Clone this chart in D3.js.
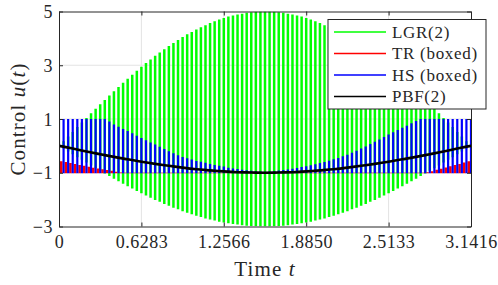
<!DOCTYPE html>
<html>
<head>
<meta charset="utf-8">
<script src="https://cdn.jsdelivr.net/npm/d3@7"></script>
<style>
  body { margin: 0; background: #fff; }
</style>
</head>
<body>
<div id="chart"></div>
<script>
"use strict";

// tick labels
var xTicks = [0, 0.6283, 1.2566, 1.8850, 2.5133, 3.1416];
var yTicks = [5, 3, 1, -1, -3];

// legend
var seriesNames = ["LGR(2)", "TR (boxed)", "HS (boxed)", "PBF(2)"];
var seriesColors = ["#00ff00", "#ff0000", "#0000ff", "#000000"];

// box bound on the control
var uMin = -1;

// LGR(2): upper and lower value on each mesh interval (91 nodes over [0, pi])
var lgrHi = [0, 0.17, 0.35, 0.52, 0.70, 0.87, 1.04, 1.21, 1.38, 1.55, 1.71, 1.87, 2.03, 2.19, 2.35, 2.50,
  2.65, 2.80, 2.94, 3.08, 3.21, 3.35, 3.47, 3.60, 3.72, 3.83, 3.94, 4.05, 4.15, 4.24, 4.33, 4.41,
  4.49, 4.57, 4.64, 4.70, 4.76, 4.81, 4.85, 4.89, 4.92, 4.95, 4.97, 4.99, 5.00, 5.00,
  5.00, 4.99, 4.97, 4.95, 4.92, 4.89, 4.85, 4.81, 4.76, 4.70, 4.64, 4.57, 4.49, 4.41, 4.33, 4.24,
  4.15, 4.05, 3.94, 3.83, 3.72, 3.60, 3.47, 3.35, 3.21, 3.08, 2.94, 2.80, 2.65, 2.50, 2.35, 2.19,
  2.03, 1.87, 1.71, 1.55, 1.38, 1.21, 1.04, 0.87, 0.70, 0.52, 0.35, 0.17, 0];
var lgrLo = [0, -0.10, -0.21, -0.31, -0.42, -0.52, -0.62, -0.73, -0.83, -0.93, -1.03, -1.12, -1.22, -1.32,
  -1.41, -1.50, -1.59, -1.68, -1.76, -1.85, -1.93, -2.01, -2.08, -2.16, -2.23, -2.30, -2.36, -2.43,
  -2.49, -2.54, -2.60, -2.65, -2.70, -2.74, -2.78, -2.82, -2.85, -2.88, -2.91, -2.93, -2.95, -2.97,
  -2.98, -2.99, -3.00, -3.00,
  -3.00, -2.99, -2.98, -2.97, -2.95, -2.93, -2.91, -2.88, -2.85, -2.82, -2.78, -2.74, -2.70, -2.65,
  -2.60, -2.54, -2.49, -2.43, -2.36, -2.30, -2.23, -2.16, -2.08, -2.01, -1.93, -1.85, -1.76, -1.68,
  -1.59, -1.50, -1.41, -1.32, -1.22, -1.12, -1.03, -0.93, -0.83, -0.73, -0.62, -0.52, -0.42, -0.31,
  -0.21, -0.10, 0];

// HS (boxed): upper value on each node, lower is the bound
var hsHi = [1, 1, 1, 1, 1, 1, 1, 1, 1, 1, 1, 0.91, 0.80, 0.71, 0.63, 0.55, 0.47, 0.38, 0.29, 0.21, 0.13,
  0.05, -0.03, -0.12, -0.20, -0.27, -0.35, -0.41, -0.46, -0.51, -0.56, -0.59, -0.63, -0.67, -0.71,
  -0.74, -0.77, -0.81, -0.84, -0.86, -0.89, -0.91, -0.93, -0.94, -0.95, -0.96,
  -0.95, -0.94, -0.92, -0.90, -0.88, -0.85, -0.82, -0.79, -0.76, -0.72, -0.68, -0.64, -0.60, -0.55,
  -0.50, -0.45, -0.39, -0.33, -0.26, -0.18, -0.10, -0.02, 0.07, 0.15, 0.24, 0.33, 0.42, 0.51, 0.59,
  0.67, 0.75, 0.84, 0.93, 1, 1, 1, 1, 1, 1, 1, 1, 1, 1, 1, 1];

// TR (boxed): upper value between nodes (90 values), lower is the bound
var trHi = [-0.57, -0.60, -0.64, -0.67, -0.71, -0.74, -0.78, -0.81, -0.84, -0.87, -0.90, -0.93, -0.96, -0.99,
  -1, -1, -1, -1, -1, -1, -1, -1, -1, -1, -1, -1, -1, -1, -1, -1, -1, -1, -1, -1, -1, -1, -1, -1,
  -1, -1, -1, -1, -1, -1, -1, -1, -1, -1, -1, -1, -1, -1, -1, -1, -1, -1, -1, -1, -1, -1, -1, -1,
  -1, -1, -1, -1, -1, -1, -1, -1, -1, -1, -1, -1, -1, -1, -1, -1, -1, -1,
  -0.98, -0.94, -0.89, -0.85, -0.80, -0.76, -0.71, -0.67, -0.62, -0.57];

// PBF(2): smooth control at 31 points over [0, pi]
var pbf = [0, -0.10, -0.21, -0.31, -0.41, -0.50, -0.59, -0.67, -0.74, -0.81, -0.87, -0.91, -0.95, -0.98,
  -0.99, -1.00, -0.99, -0.98, -0.95, -0.91, -0.87, -0.81, -0.74, -0.67, -0.59, -0.50, -0.41, -0.31,
  -0.21, -0.10, 0];

var serif = "'Liberation Serif', 'DejaVu Serif', serif";

function renderMyChart() {
    var svg = d3.select("#chart").append("svg")
        .attr("width", 498)
        .attr("height", 285)
        .style("font-family", serif),
        margin = { top: 11.5, left: 59 },
        width = 412,
        height = 215;

    var x = d3.scaleLinear().domain([0, Math.PI]).range([0, width]),
        y = d3.scaleLinear().domain([-3, 5]).range([height, 0]);

    var g = svg.append("g")
        .attr("transform", "translate(" + margin.left + "," + margin.top + ")");

    svg.append("defs").append("clipPath").attr("id", "clip")
        .append("rect").attr("width", width).attr("height", height);

    // grid
    g.append("g").selectAll("line").data(xTicks.slice(1, -1)).join("line")
        .attr("x1", d => x(d)).attr("x2", d => x(d))
        .attr("y1", 0).attr("y2", height)
        .attr("stroke", "#e3e3e3");
    g.append("g").selectAll("line").data(yTicks.slice(1, -1)).join("line")
        .attr("x1", 0).attr("x2", width)
        .attr("y1", d => y(d)).attr("y2", d => y(d))
        .attr("stroke", "#e3e3e3");

    var plot = g.append("g").attr("clip-path", "url(#clip)");

    var nodeT = d3.range(lgrHi.length).map(i => i * Math.PI / (lgrHi.length - 1));
    var step = Math.PI / (lgrHi.length - 1);

    plot.append("g").selectAll("line").data(nodeT).join("line")
        .attr("x1", d => x(d)).attr("x2", d => x(d))
        .attr("y1", (d, i) => y(lgrHi[i])).attr("y2", (d, i) => y(lgrLo[i]))
        .attr("stroke", seriesColors[0]).attr("stroke-width", 2.5);

    plot.append("g").selectAll("line").data(trHi).join("line")
        .attr("x1", (d, i) => x(i * step + step / 2)).attr("x2", (d, i) => x(i * step + step / 2))
        .attr("y1", d => y(d)).attr("y2", y(uMin) + 0.5)
        .attr("stroke", seriesColors[1]).attr("stroke-width", 2.6);

    plot.append("g").selectAll("line").data(nodeT).join("line")
        .attr("x1", d => x(d)).attr("x2", d => x(d))
        .attr("y1", (d, i) => y(hsHi[i])).attr("y2", y(uMin) + 0.5)
        .attr("stroke", seriesColors[2]).attr("stroke-width", 2.2);

    plot.append("path")
        .datum(pbf)
        .attr("fill", "none")
        .attr("stroke", seriesColors[3])
        .attr("stroke-width", 2.6)
        .attr("d", d3.line()
            .x((d, i) => x(i * Math.PI / (pbf.length - 1)))
            .y(d => y(d))
            .curve(d3.curveNatural));

    // axes
    var axisColor = "#262626";
    var bottom = g.append("g").attr("transform", "translate(0," + height + ")")
        .call(d3.axisBottom(x).tickValues(xTicks).tickSizeInner(-4).tickSizeOuter(0)
            .tickFormat(d => d === 0 ? "0" : d.toFixed(4)));
    var top = g.append("g")
        .call(d3.axisTop(x).tickValues(xTicks).tickSizeInner(-4).tickSizeOuter(0).tickFormat(""));
    var left = g.append("g")
        .call(d3.axisLeft(y).tickValues(yTicks).tickSizeInner(-4).tickSizeOuter(0));
    var right = g.append("g").attr("transform", "translate(" + width + ",0)")
        .call(d3.axisRight(y).tickValues(yTicks).tickSizeInner(-4).tickSizeOuter(0).tickFormat(""));

    [bottom, top, left, right].forEach(function (a) {
        a.attr("font-family", serif);
        a.select(".domain").attr("stroke", axisColor);
        a.selectAll(".tick line").attr("stroke", axisColor);
    });
    bottom.selectAll(".tick text")
        .attr("y", 9).attr("dy", "0.71em")
        .style("font-family", serif)
        .style("font-size", "18px").style("letter-spacing", "0.5px")
        .attr("fill", axisColor);
    left.selectAll(".tick text")
        .attr("x", -6).attr("dy", "0.34em")
        .style("font-family", serif)
        .style("font-size", "18px").style("letter-spacing", "0.5px")
        .attr("fill", axisColor);

    // axis labels
    var xl = svg.append("text")
        .attr("x", margin.left + width / 2).attr("y", 276)
        .attr("text-anchor", "middle").attr("fill", axisColor)
        .style("font-family", serif)
        .style("font-size", "21px").style("letter-spacing", "1.1px");
    xl.append("tspan").text("Time ");
    xl.append("tspan").attr("font-style", "italic").text("t");

    var yl = svg.append("text")
        .attr("transform", "translate(25," + (margin.top + y(1)) + ") rotate(-90)")
        .attr("text-anchor", "middle").attr("fill", axisColor)
        .style("font-family", serif)
        .style("font-size", "21px").style("letter-spacing", "1.1px");
    yl.append("tspan").text("Control ");
    yl.append("tspan").attr("font-style", "italic").text("u");
    yl.append("tspan").text("(");
    yl.append("tspan").attr("font-style", "italic").text("t");
    yl.append("tspan").text(")");

    // legend
    var lg = svg.append("g").attr("transform", "translate(328,19.5)");
    lg.append("rect")
        .attr("width", 158).attr("height", 89.5)
        .attr("fill", "#fff").attr("stroke", axisColor).attr("stroke-width", 1);
    var item = lg.selectAll(".item").data(seriesNames).join("g")
        .attr("class", "item")
        .attr("transform", (d, i) => "translate(0," + (12.5 + i * 21.5) + ")");
    item.append("line")
        .attr("x1", 6).attr("x2", 58)
        .attr("stroke", (d, i) => seriesColors[i]).attr("stroke-width", 1.6);
    item.append("text")
        .attr("x", 64).attr("dy", "0.34em").attr("fill", axisColor)
        .style("font-family", serif)
        .style("font-size", "17px").style("letter-spacing", "0.7px")
        .text(d => d);
}

renderMyChart();
</script>
</body>
</html>
